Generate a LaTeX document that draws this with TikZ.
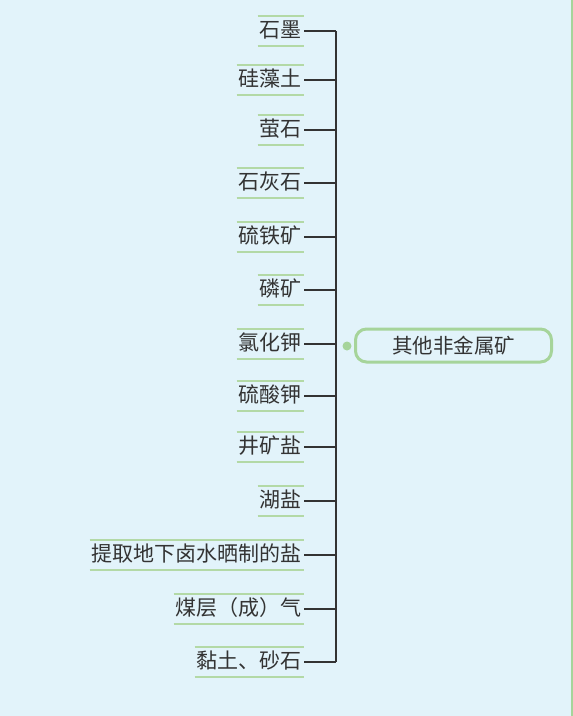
\documentclass[tikz,border=0pt]{standalone}
\usepackage{fontspec}
\newfontfamily\cjk{Noto Sans CJK SC}
\definecolor{bgblue}{HTML}{E2F3FA}
\definecolor{leafgreen}{HTML}{B3D9A6}
\definecolor{rootgreen}{HTML}{A6D49A}
\definecolor{ink}{HTML}{333333}
\begin{document}
\begin{tikzpicture}[x=1pt,y=-1pt,
  leaf/.style={anchor=east, inner xsep=2pt, inner ysep=0pt, text height=16.5pt, text depth=4.5pt,
    minimum height=29pt, font=\cjk\fontsize{21}{25}\selectfont, text=ink},
  rule/.style={draw=leafgreen, line width=1.8pt},
  conn/.style={draw=ink, line width=1.4pt},
  root/.style={draw=rootgreen, line width=3pt, rounded corners=11pt, minimum width=196pt,
    minimum height=33pt, font=\cjk\fontsize{20.5}{24}\selectfont, text=ink, inner sep=0pt},
  dotn/.style={circle, fill=rootgreen, inner sep=0pt, minimum size=9pt}
]
\fill[bgblue] (0,0) rectangle (573,716);
\fill[rootgreen] (570.5,0) rectangle (573,716);
\useasboundingbox (0,0) rectangle (573,716);
\coordinate (sp) at (336,0);
\node[leaf] (l1) at (304,31) {石墨};
\node[leaf] (l2) at (304,80) {硅藻土};
\node[leaf] (l3) at (304,130) {萤石};
\node[leaf] (l4) at (304,183) {石灰石};
\node[leaf] (l5) at (304,237) {硫铁矿};
\node[leaf] (l6) at (304,290) {磷矿};
\node[leaf] (l7) at (304,344) {氯化钾};
\node[leaf] (l8) at (304,396) {硫酸钾};
\node[leaf] (l9) at (304,447) {井矿盐};
\node[leaf] (l10) at (304,501) {湖盐};
\node[leaf] (l11) at (304,555) {提取地下卤水晒制的盐};
\node[leaf] (l12) at (304,609) {煤层（成）气};
\node[leaf] (l13) at (304,662) {黏土、砂石};
\foreach \i in {1,...,13}{
  \draw[rule] (l\i.north west) -- (l\i.north east);
  \draw[rule] (l\i.south west) -- (l\i.south east);
  \draw[conn] (l\i.east) -- (l\i.east -| sp);
}
\draw[conn] (l1.east -| sp) -- (l13.east -| sp);
\node[root] (root) at (453.5,345.5) {其他非金属矿};
\node[dotn] (dot) at (347,346) {};
\end{tikzpicture}
\end{document}
